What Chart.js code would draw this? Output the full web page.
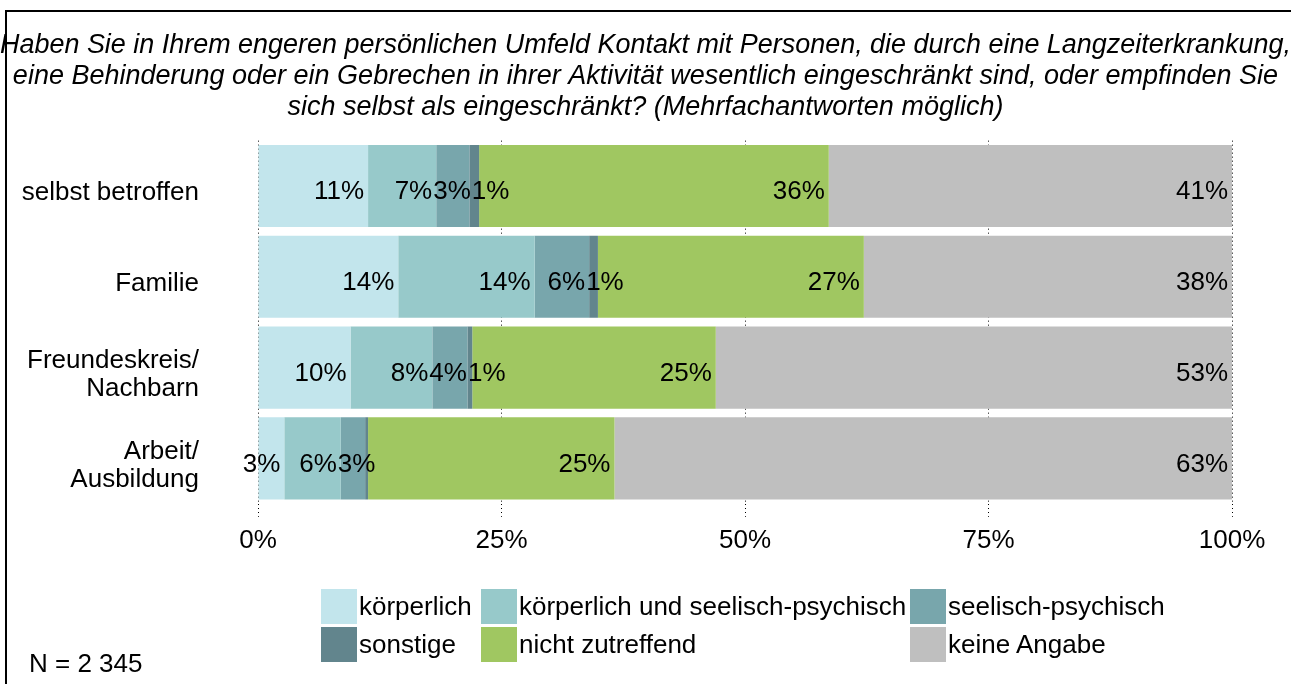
<!DOCTYPE html>
<html><head><meta charset="utf-8">
<title>Kontakt mit eingeschränkten Personen</title>
<script src="https://cdn.jsdelivr.net/npm/chart.js"></script>
<style>
    body { margin: 0; background: #fff; font-family: "Liberation Sans", Arial, sans-serif; }
    #wrap { position: relative; width: 1291px; height: 684px; overflow: hidden; }
    #frame { position: absolute; left: 5px; top: 10px; width: 1400px; height: 800px; border-left: 2px solid #000; border-top: 2px solid #000; }
    #legende { position: absolute; left: 321px; top: 589px; display: grid; grid-template-columns: 160px 429px auto; row-gap: 3px; font-size: 26px; color: #000; }
    .item { display: flex; align-items: center; height: 35px; }
    .box { width: 36px; height: 35px; margin-right: 2px; }
    #n { position: absolute; left: 29px; top: 648px; font-size: 26px; }
</style></head>
<body>
<div id="wrap">
    <canvas id="grafico" width="1291" height="684"></canvas>
    <div id="frame"></div>
    <div id="legende"></div>
    <div id="n">N = 2 345</div>
</div>
<script>
// --- DATEN ---
const kategorien = ['selbst betroffen', 'Familie', ['Freundeskreis/', 'Nachbarn'], ['Arbeit/', 'Ausbildung']];
const serienNamen = ['körperlich', 'körperlich und seelisch-psychisch', 'seelisch-psychisch', 'sonstige', 'nicht zutreffend', 'keine Angabe'];
const koerperlich = [11.3, 14.4, 9.5, 2.7];
const koerperlichSeelisch = [7.0, 14.0, 8.4, 5.8];
const seelisch = [3.4, 5.6, 3.6, 2.5];
const sonstige = [1.0, 0.9, 0.5, 0.3];
const nichtZutreffend = [35.9, 27.3, 25.0, 25.3];
const keineAngabe = [41.4, 37.8, 53.0, 63.4];
const xTicks = [0, 25, 50, 75, 100];

const farben = ['#C2E5EC', '#97C9CA', '#78A6AC', '#62858D', '#A0C761', '#BFBFBF'];
const werte = [koerperlich, koerperlichSeelisch, seelisch, sonstige, nichtZutreffend, keineAngabe];
const FONT = '"Liberation Sans", Arial, sans-serif';

// Legende als Tabelle (3 Spalten)
const leg = document.getElementById('legende');
serienNamen.forEach((name, i) => {
    const d = document.createElement('div');
    d.className = 'item';
    d.innerHTML = '<span class="box" style="background:' + farben[i] + '"></span><span>' + name + '</span>';
    leg.appendChild(d);
});

// Prozentwerte am Ende jedes Segments, Überlappung nach rechts schieben
const labelPlugin = {
    id: 'prozente',
    afterDatasetsDraw(chart) {
        const ctx = chart.ctx;
        ctx.save();
        ctx.font = '26px ' + FONT;
        ctx.fillStyle = '#000';
        ctx.textBaseline = 'middle';
        ctx.textAlign = 'left';
        for (let r = 0; r < kategorien.length; r++) {
            let prevRight = -Infinity;
            chart.data.datasets.forEach((ds, di) => {
                const v = ds.data[r];
                const txt = Math.round(v) + '%';
                if (Math.round(v) < 1) return;
                const bar = chart.getDatasetMeta(di).data[r];
                const w = ctx.measureText(txt).width;
                let left = bar.x - 4 - w;
                if (left < prevRight + 1) left = prevRight + 1;
                ctx.fillText(txt, left, bar.y + 6);
                prevRight = left + w;
            });
        }
        ctx.restore();
    }
};

const chart = new Chart(document.getElementById('grafico'), {
    type: 'bar',
    data: {
        labels: kategorien,
        datasets: serienNamen.map((name, i) => ({
            label: name,
            data: werte[i],
            backgroundColor: farben[i],
            borderWidth: 0,
            categoryPercentage: 1,
            barPercentage: 0.904
        }))
    },
    options: {
        indexAxis: 'y',
        responsive: false,
        animation: false,
        layout: { padding: { left: 0, right: 0, top: 0, bottom: 120 } },
        plugins: {
            legend: { display: false },
            tooltip: { enabled: false },
            title: {
                display: true,
                text: ['Haben Sie in Ihrem engeren persönlichen Umfeld Kontakt mit Personen, die durch eine Langzeiterkrankung,',
                       'eine Behinderung oder ein Gebrechen in ihrer Aktivität wesentlich eingeschränkt sind, oder empfinden Sie',
                       'sich selbst als eingeschränkt? (Mehrfachantworten möglich)'],
                color: '#000',
                font: { family: FONT, size: 27, style: 'italic', weight: 'normal', lineHeight: 1.15 },
                padding: { top: 29.5, bottom: 18 }
            }
        },
        scales: {
            x: {
                stacked: true,
                min: 0, max: 100,
                afterBuildTicks: (s) => { s.ticks = xTicks.map(v => ({ value: v })); },
                grid: { color: '#000', lineWidth: 1, tickLength: 13, tickColor: '#000', tickBorderDash: [1, 3] },
                border: { display: false, dash: [1, 3] },
                ticks: { color: '#000', padding: 8, font: { family: FONT, size: 26 }, callback: v => v + '%', maxRotation: 0 }
            },
            y: {
                stacked: true,
                afterFit: (s) => { s.width = 258; },
                grid: { display: false, drawTicks: false },
                border: { display: false },
                ticks: { color: '#000', padding: 59, labelOffset: 7, font: { family: FONT, size: 26, lineHeight: 1.08 } }
            },
            // leere Achse rechts, hält den Rand frei, ohne den Titel zu verschieben
            rechts: {
                type: 'category',
                position: 'right',
                afterFit: (s) => { s.width = 59; },
                grid: { display: false, drawTicks: false },
                border: { display: false },
                ticks: { display: false }
            }
        }
    },
    plugins: [labelPlugin]
});
</script>
</body></html>
